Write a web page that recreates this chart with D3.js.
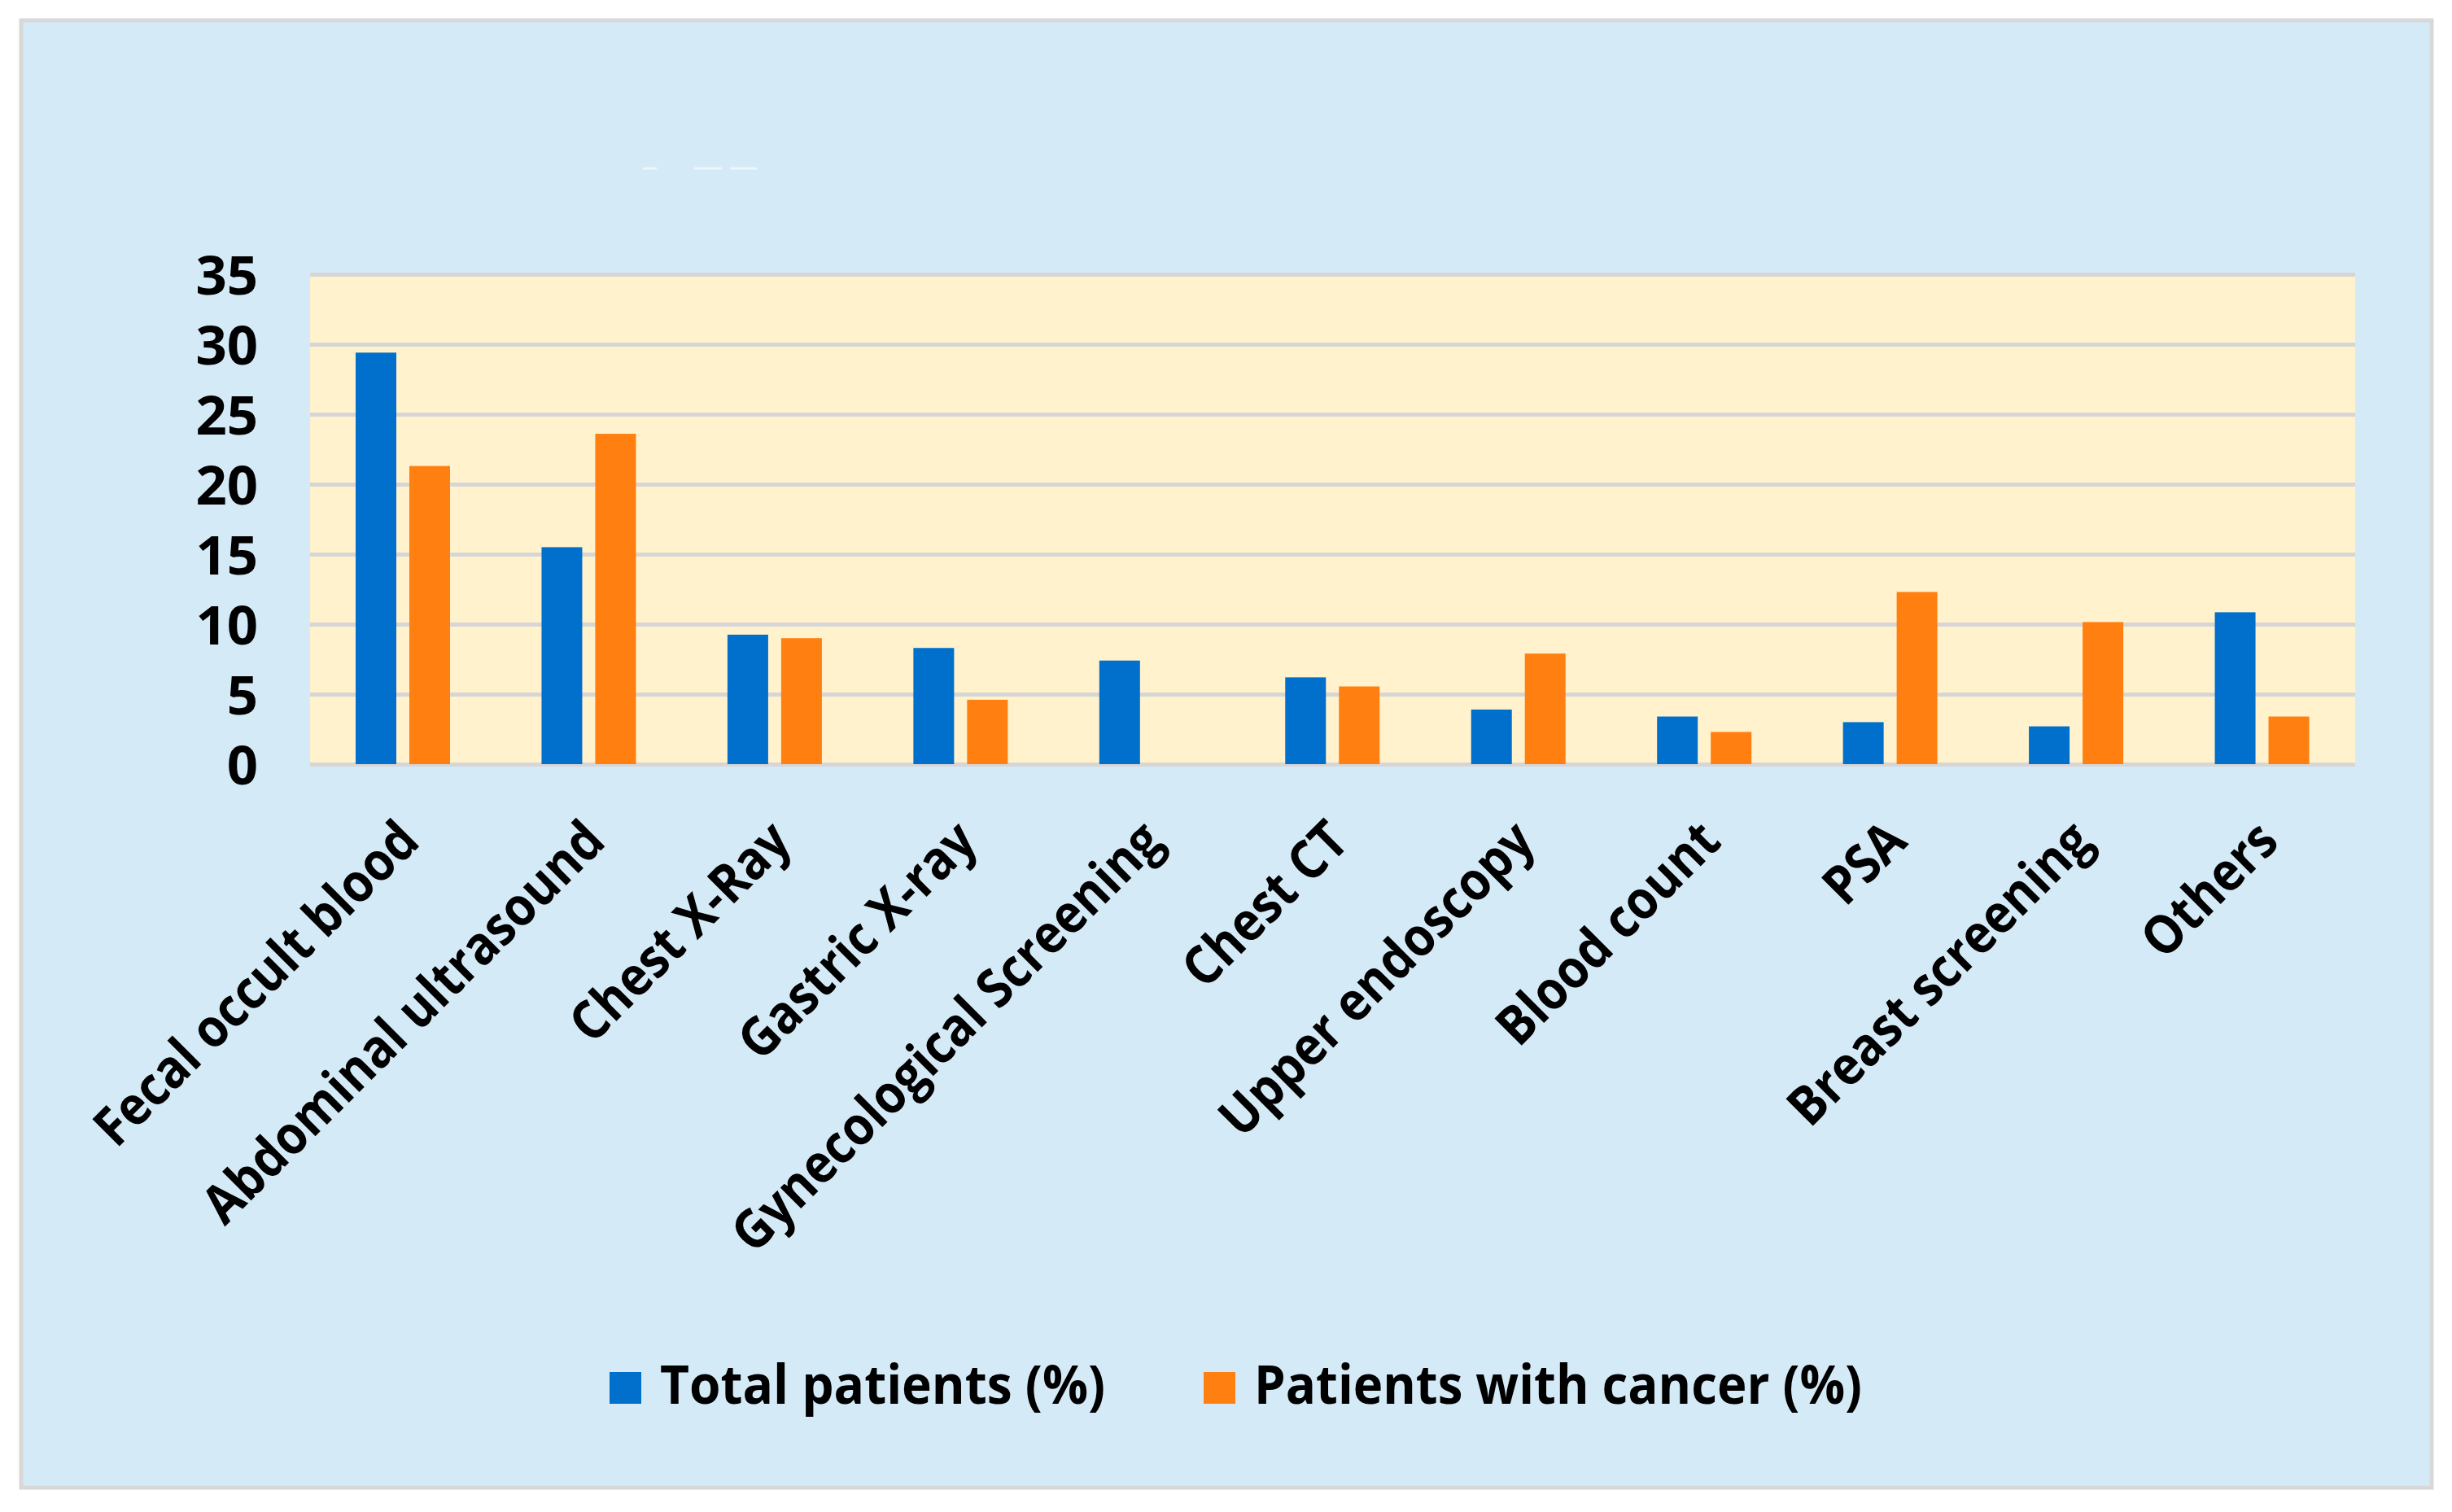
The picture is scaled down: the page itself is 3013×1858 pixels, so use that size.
<!DOCTYPE html>
<html><head><meta charset="utf-8">
<script src="https://cdn.jsdelivr.net/npm/d3@7"></script>
<style>body{margin:0;background:#ffffff;} svg{display:block;}</style></head>
<body><svg id="chart" width="3013" height="1858"></svg>
<script>
const categories = ["Fecal occult blood","Abdominal ultrasound","Chest X-Ray","Gastric X-ray","Gynecological Screening","Chest CT","Upper endoscopy","Blood count","PSA","Breast screening","Others"];
const totalPatients = [29.4,15.5,9.25,8.3,7.4,6.2,3.9,3.4,3.0,2.7,10.85];
const cancerPatients = [21.3,23.6,9.0,4.6,0,5.55,7.9,2.3,12.3,10.15,3.4];
const seriesNames = ["Total patients (%)","Patients with cancer (%)"];
const seriesColors = ["#0070CC","#FF7F10"];
const yTicks = [0,5,10,15,20,25,30,35];

(function(){
const svg = d3.select("#chart");
const font = "'Open Sans', 'Noto Sans', sans-serif";

// frame
svg.append("rect").attr("x",26).attr("y",25).attr("width",2962).attr("height",1803)
  .attr("fill","#D5EAF7").attr("stroke","#D8D8D8").attr("stroke-width",5);

// faint artifact marks near top
[[790,807],[853,887],[897,930]].forEach(s=>{
  svg.append("line").attr("x1",s[0]).attr("x2",s[1]).attr("y1",207).attr("y2",207)
    .attr("stroke","#ffffff").attr("stroke-width",3).attr("opacity",0.6);
});

const pLeft = 381, pRight = 2894, pTop = 337, pBottom = 939;
const x = d3.scaleBand().domain(categories).range([pLeft,pRight]).paddingInner(0).paddingOuter(0);
const xs = d3.scaleBand().domain(seriesNames).range([56,172]).paddingInner(16/66);
const y = d3.scaleLinear().domain([0,35]).range([pBottom,pTop]);

// plot bg
svg.append("rect").attr("x",pLeft).attr("y",pTop).attr("width",pRight-pLeft).attr("height",pBottom-pTop).attr("fill","#FFF2CC");

// y axis with gridlines
const yAxis = svg.append("g").attr("transform",`translate(${pLeft},0)`)
  .call(d3.axisLeft(y).tickValues(yTicks).tickSize(-(pRight-pLeft)).tickPadding(64).tickFormat(d3.format("d")));
yAxis.select(".domain").remove();
yAxis.selectAll(".tick line").attr("stroke","#D6D6D6").attr("stroke-width",5);
yAxis.selectAll(".tick text").attr("font-family",font).attr("font-weight",700)
  .attr("font-size",67).attr("fill","#000").attr("dy","0.36em");

// bars
const data = categories.map((c,i)=>({cat:c, vals:[totalPatients[i],cancerPatients[i]]}));
const groups = svg.append("g").selectAll("g").data(data).join("g")
  .attr("transform",d=>`translate(${x(d.cat)},0)`);
groups.selectAll("rect").data(d=>d.vals.map((v,j)=>({name:seriesNames[j],v:v,j:j})).filter(e=>e.v>0))
  .join("rect")
  .attr("x",e=>xs(e.name)).attr("width",xs.bandwidth())
  .attr("y",e=>y(e.v)).attr("height",e=>y(0)-y(e.v))
  .attr("fill",e=>seriesColors[e.j]);

// x axis labels
const xAxis = svg.append("g").attr("transform",`translate(0,${pBottom})`)
  .call(d3.axisBottom(x).tickSize(0));
xAxis.select(".domain").remove();
xAxis.selectAll(".tick text")
  .attr("font-family",font).attr("font-weight",700)
  .attr("font-size",66).attr("fill","#000")
  .attr("x",0).attr("y",0).attr("dy",0)
  .attr("text-anchor","end")
  .attr("transform","translate(23,98) rotate(-45) scale(0.9,1)");

// legend
const legendItems = [
  {name:seriesNames[0], color:seriesColors[0], sx:749, tx:811, tl:547},
  {name:seriesNames[1], color:seriesColors[1], sx:1479, tx:1541, tl:747}
];
const lg = svg.append("g");
legendItems.forEach(it=>{
  lg.append("rect").attr("x",it.sx).attr("y",1686).attr("width",39).attr("height",39).attr("fill",it.color);
  lg.append("text").attr("x",it.tx).attr("y",1725).attr("font-family",font).attr("font-weight",700)
    .attr("font-size",67).attr("fill","#000").attr("textLength",it.tl).attr("lengthAdjust","spacingAndGlyphs")
    .text(it.name);
});
})();
</script></body></html>
